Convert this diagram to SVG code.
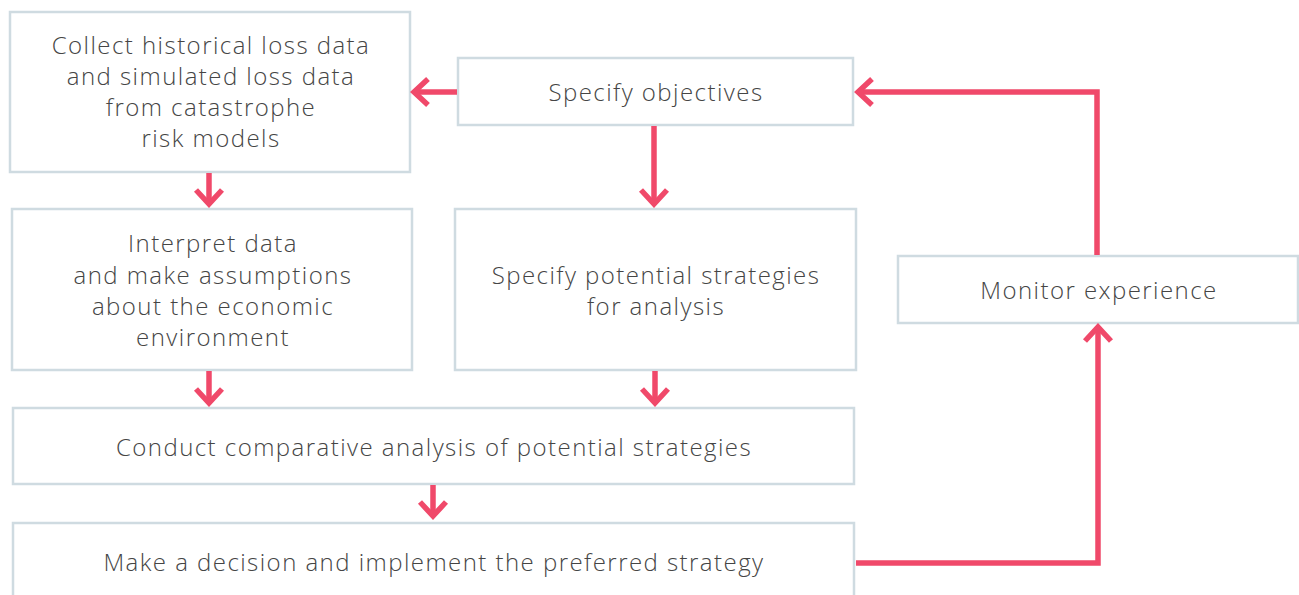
<svg xmlns="http://www.w3.org/2000/svg" width="1299" height="595" viewBox="0 0 1299 595">
<defs>
<style>
.box{fill:#ffffff;stroke:#cfdbe1;stroke-width:2.5}
.t{font-family:"Open Sans","Liberation Sans",sans-serif;font-size:24px;letter-spacing:1.45px;fill:#454545;text-anchor:middle;font-weight:300}
.c{fill:none;stroke:#f0496a;stroke-width:5.5}
</style>
<marker id="ah" viewBox="-16 -16 20 32" markerWidth="20" markerHeight="32" refX="0" refY="0" orient="auto" markerUnits="userSpaceOnUse">
<path d="M-14,-13 L0,0 L-14,13" fill="none" stroke="#f0496a" stroke-width="5.5"/>
</marker>
</defs>
<rect width="1299" height="595" fill="#ffffff"/>
<g id="n-collect"><rect class="box" x="10" y="12" width="400" height="160"/>
<text class="t" x="211" y="54">Collect historical loss data</text>
<text class="t" x="211" y="85">and simulated loss data</text>
<text class="t" x="211" y="116">from catastrophe</text>
<text class="t" x="211" y="147">risk models</text></g>
<g id="n-objectives"><rect class="box" x="458" y="58" width="395" height="67"/>
<text class="t" x="656" y="101">Specify objectives</text></g>
<g id="n-interpret"><rect class="box" x="12" y="209" width="400" height="161"/>
<text class="t" x="213" y="252">Interpret data</text>
<text class="t" x="213" y="284">and make assumptions</text>
<text class="t" x="213" y="315">about the economic</text>
<text class="t" x="213" y="346">environment</text></g>
<g id="n-strategies"><rect class="box" x="455" y="209" width="401" height="161"/>
<text class="t" x="656" y="284">Specify potential strategies</text>
<text class="t" x="656" y="315">for analysis</text></g>
<g id="n-monitor"><rect class="box" x="898" y="256" width="400" height="67"/>
<text class="t" x="1099" y="299">Monitor experience</text></g>
<g id="n-conduct"><rect class="box" x="13" y="408" width="841" height="76"/>
<text class="t" x="434" y="456">Conduct comparative analysis of potential strategies</text></g>
<g id="n-decision"><rect class="box" x="13" y="523" width="841" height="80"/>
<text class="t" x="434" y="571">Make a decision and implement the preferred strategy</text></g>
<g id="connectors">
<path class="c" d="M457,92 L414,92" marker-end="url(#ah)"/>
<path class="c" d="M654,126 L654,204" marker-end="url(#ah)"/>
<path class="c" d="M209,173 L209,204" marker-end="url(#ah)"/>
<path class="c" d="M209,371 L209,403" marker-end="url(#ah)"/>
<path class="c" d="M655,371 L655,403" marker-end="url(#ah)"/>
<path class="c" d="M433,485 L433,516" marker-end="url(#ah)"/>
<path class="c" d="M856,563 L1098,563 L1098,327" marker-end="url(#ah)"/>
<path class="c" d="M1097,255 L1097,92 L858,92" marker-end="url(#ah)"/>
</g>
</svg>
